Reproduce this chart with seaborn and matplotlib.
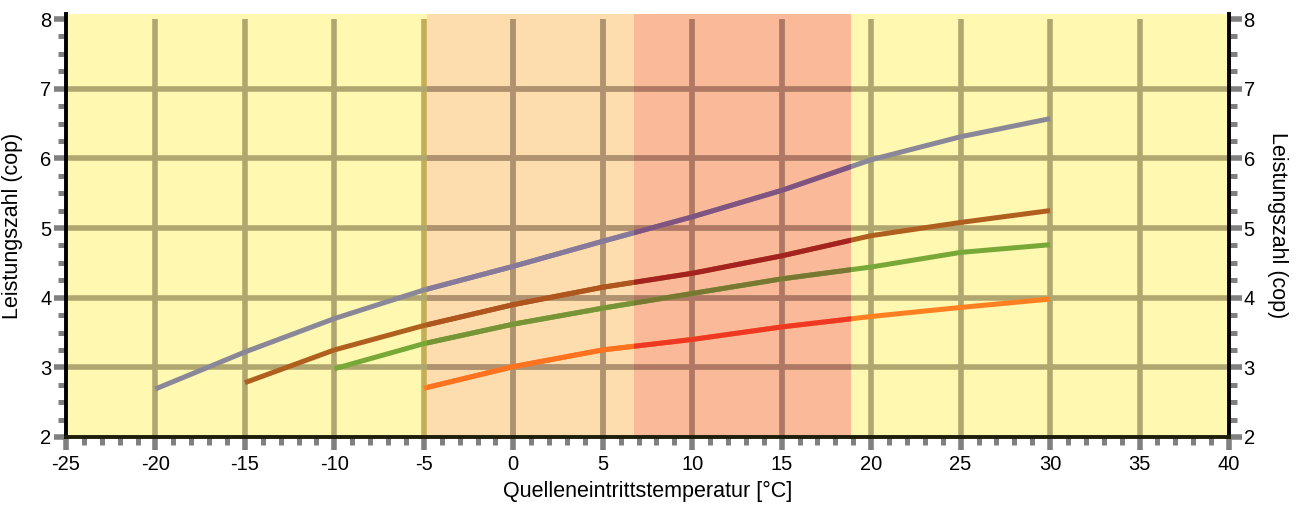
import matplotlib
matplotlib.use("Agg")
import matplotlib.pyplot as plt
import seaborn as sns
import pandas as pd
import numpy as np
from matplotlib.ticker import MultipleLocator
from matplotlib.patches import Rectangle

plt.rcParams['font.family'] = ['Liberation Sans', 'DejaVu Sans']
plt.rcParams['axes.unicode_minus'] = False

# ---- data ----
x_gray = [-20, -15, -10, -5, 0, 5, 10, 15, 20, 25, 30]
y_gray = [2.69, 3.22, 3.70, 4.11, 4.45, 4.81, 5.16, 5.54, 5.98, 6.31, 6.57]
x_brown = [-15, -10, -5, 0, 5, 10, 15, 20, 25, 30]
y_brown = [2.78, 3.25, 3.60, 3.90, 4.15, 4.35, 4.60, 4.89, 5.08, 5.25]
x_green = [-10, -5, 0, 5, 10, 15, 20, 25, 30]
y_green = [2.98, 3.34, 3.62, 3.85, 4.06, 4.27, 4.44, 4.65, 4.76]
x_orange = [-5, 0, 5, 10, 15, 20, 25, 30]
y_orange = [2.70, 3.01, 3.25, 3.40, 3.58, 3.73, 3.86, 3.98]

series_names = ["A", "B", "C", "D"]
series_colors = ["#8A8898", "#B0601E", "#78A838", "#FF8020"]
# how the series look where they pass through the coloured bands
orange_band_colors = ["#87799A", "#AF551E", "#779537", "#FE7220"]
red_band_colors = ["#805480", "#A5231E", "#787832", "#EE3824"]

band_orange = (-4.83, 6.75)
band_red = (6.75, 18.85)
band_orange_fill = "#FDDCAE"
band_red_fill = "#FAB998"

x_ticks = list(range(-25, 41, 5))
y_ticks = list(range(2, 9))

frames = []
for name, xs, ys in zip(series_names,
                        [x_gray, x_brown, x_green, x_orange],
                        [y_gray, y_brown, y_green, y_orange]):
    frames.append(pd.DataFrame({"temp": xs, "cop": ys, "series": name}))
df = pd.concat(frames, ignore_index=True)

fig = plt.figure(figsize=(13.02, 5.07), dpi=100)
ax = fig.add_axes([66 / 1302, 70 / 507, (1229 - 66) / 1302, (437 - 14) / 507])
ax.set_facecolor("#FEF8B0")
ax.set_xlim(-25, 40)
ax.set_ylim(2, 8.072)

ax.axvspan(*band_orange, color=band_orange_fill, lw=0, zorder=0.5)
ax.axvspan(*band_red, color=band_red_fill, lw=0, zorder=0.5)


def band_clip(b):
    return Rectangle((b[0], 1.5), b[1] - b[0], 7.0, transform=ax.transData)


def draw_grid(color, clip=None, zorder=1):
    arts = []
    for xv in x_ticks[1:-1]:
        c = color
        if clip is None and xv == -5:
            c = "#C4AC58"
        arts.append(ax.vlines(xv, 2, 8, color=c, lw=4, zorder=zorder))
    for yv in y_ticks[1:-1]:
        arts.append(ax.hlines(yv, -25, 40, color=color, lw=4, zorder=zorder))
    if clip is not None:
        for a in arts:
            a.set_clip_path(band_clip(clip))


draw_grid("#B0A670")
draw_grid("#B09270", clip=band_orange, zorder=1.1)
draw_grid("#B07864", clip=band_red, zorder=1.1)


def draw_lines(palette, clip=None, zorder=2):
    n0 = len(ax.get_lines())
    sns.lineplot(data=df, x="temp", y="cop", hue="series", palette=palette,
                 hue_order=series_names, estimator=None, sort=False, legend=False,
                 linewidth=3.6, ax=ax, zorder=zorder)
    for ln in ax.get_lines()[n0:]:
        ln.set_solid_capstyle("butt")
        if clip is not None:
            ln.set_clip_path(band_clip(clip))


draw_lines(series_colors)
draw_lines(orange_band_colors, clip=band_orange, zorder=2.1)
draw_lines(red_band_colors, clip=band_red, zorder=2.1)

ax.set_xticks(x_ticks)
ax.set_yticks(y_ticks)
ax.xaxis.set_minor_locator(MultipleLocator(1))
ax.yaxis.set_minor_locator(MultipleLocator(0.25))

for side in ["left", "right", "bottom"]:
    ax.spines[side].set_color("black")
    ax.spines[side].set_linewidth(2.8)
ax.spines["bottom"].set_color("#1E1E0A")
ax.spines["top"].set_visible(False)

ax.tick_params(which="major", direction="out", length=9, width=4, color="#808080",
               labelsize=14.5, pad=4, left=True, right=True, labelleft=True, labelright=True)
ax.tick_params(which="minor", direction="out", length=6, width=3.6, color="#808080",
               left=True, right=True)
ax.tick_params(axis="y", which="major", pad=1.5)

ax.set_xlabel("Quelleneintrittstemperatur [°C]", fontsize=15.5)
ax.xaxis.set_label_coords(0.5, -0.104)
ax.set_ylabel("Leistungszahl (cop)", fontsize=15.5)
ax.yaxis.set_label_coords(-0.037, 0.5)
ax.text(1.0413, 0.5, "Leistungszahl (cop)", transform=ax.transAxes, rotation=-90,
        fontsize=15.5, ha="center", va="center")

fig.savefig("out.png", dpi=100)
